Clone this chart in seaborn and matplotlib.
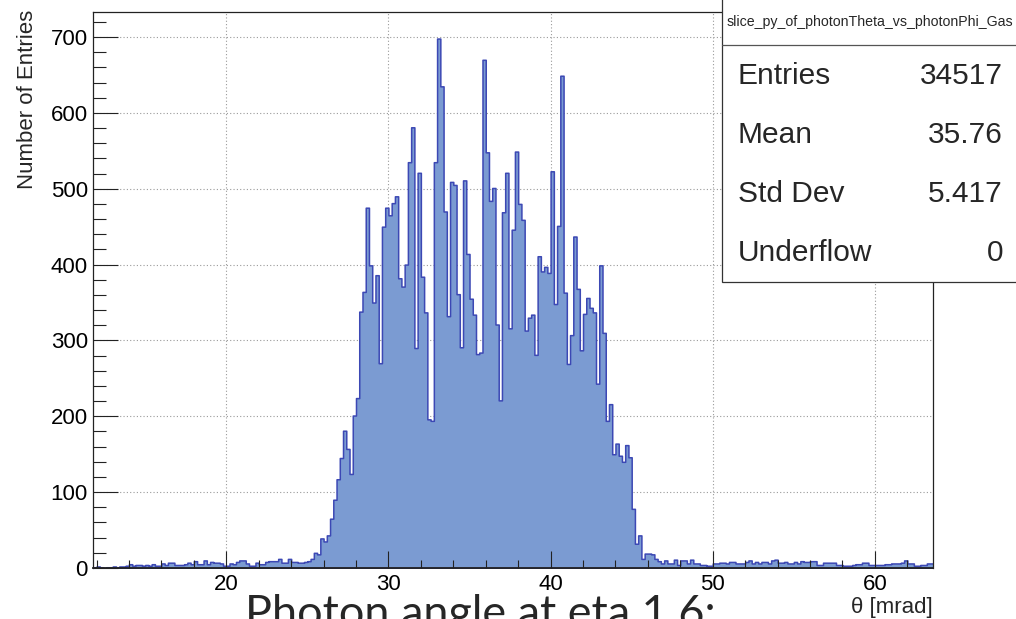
import numpy as np
import pandas as pd
import matplotlib
matplotlib.use("Agg")
import matplotlib.pyplot as plt
from matplotlib.patches import Rectangle
from matplotlib.lines import Line2D
from matplotlib.ticker import MultipleLocator
import seaborn as sns

# Histogram binning: 0.2 mrad bins starting at 11.8 mrad
BIN_LO = 11.8
BIN_W = 0.2

# Bin contents, left to right
tail_low = [1, 2, 1, 0, 1, 1, 2, 1, 2, 2, 3,
            5, 3, 4, 4, 3, 4, 3,
            5, 3, 3, 6, 4,
            7, 7, 4, 4, 4, 5,
            7, 5, 9, 5, 5,
            10, 5, 8, 7, 7, 6, 3, 3, 6, 5, 8, 10, 10, 6, 3, 3, 7, 5, 5, 8, 9, 9,
            9, 12, 7, 7, 12, 8, 8]
rise = [7, 7, 8, 9, 12, 20, 18,
        39, 35, 43, 65, 90, 117, 145, 181, 157, 124, 201, 224, 338, 364,
        475, 399, 350, 386, 270, 450, 475, 465, 481]
peak_a = [490, 382, 371, 400, 535, 581, 290, 521, 384, 337,
          196, 194, 535, 698, 635, 470, 332, 509, 505, 361,
          291, 511, 414, 355, 334, 282, 284, 670, 548]
peak_b = [484, 501, 321, 221, 469, 521, 316, 446, 549, 480,
          459, 313, 330, 334, 281, 411, 391, 397, 389, 523,
          348, 451, 649, 363, 269, 307, 437, 368, 287]
fall = [335, 356, 343, 337, 243, 399, 310, 194, 216, 150,
        164, 148, 140, 162, 146, 78, 32, 43, 12, 19,
        19, 18, 12, 9]
tail_high = [6, 10, 6, 6, 11, 4,
             10, 10, 6, 11, 6, 6,
             4, 4, 3, 3, 6, 6,
             7, 7, 6, 8, 8, 6,
             6, 6, 8, 10, 6, 8,
             6, 8, 8, 6, 10, 11,
             7, 7, 8, 6, 6, 8,
             6, 9, 8, 8, 9, 9,
             4, 4, 7, 7, 7, 7,
             4, 4, 3, 3, 3, 4,
             5, 5, 7, 7, 4, 4,
             4, 4, 4, 5, 5, 6,
             6, 6, 7, 10, 6, 6,
             3, 3, 4, 4, 6, 6]

hist_name = "slice_py_of_photonTheta_vs_photonPhi_Gas"
stat_labels = ["Entries", "Mean", "Std Dev", "Underflow"]
stat_values = ["34517", "35.76", "5.417", "0"]
x_title = "θ [mrad]"
y_title = "Number of Entries"
caption = "Photon angle at eta 1.6:"

counts = np.concatenate([tail_low, rise, peak_a, peak_b, fall, tail_high]).astype(float)
edges = BIN_LO + BIN_W * np.arange(len(counts) + 1)
centers = 0.5 * (edges[:-1] + edges[1:])
df = pd.DataFrame({"theta": centers, "entries": counts})

sns.set_theme(style="white")
plt.rcParams["font.family"] = ["Liberation Sans", "DejaVu Sans"]

W, H = 1016, 619
fig = plt.figure(figsize=(W / 100, H / 100), dpi=100)
fig.patch.set_facecolor("white")

x0, x1, y0, y1 = 93.3, 933.3, 12, 568
ax = fig.add_axes([x0 / W, 1 - y1 / H, (x1 - x0) / W, (y1 - y0) / H])

sns.histplot(data=df, x="theta", weights="entries", bins=edges.tolist(),
             element="step", fill=True, facecolor="#7b9bd2",
             edgecolor="#3c48b4", linewidth=1.1, alpha=1.0, ax=ax, zorder=2)

ax.set_xlim(edges[0], edges[-1])
ax.set_ylim(0, 733)
ax.set_xlabel("")
ax.set_ylabel("")

ax.xaxis.set_major_locator(MultipleLocator(10))
ax.xaxis.set_minor_locator(MultipleLocator(2))
ax.yaxis.set_major_locator(MultipleLocator(100))
ax.yaxis.set_minor_locator(MultipleLocator(20))

# Dotted grid kept underneath the histogram, tick marks drawn on top of it
ax.grid(False)
grid_kw = dict(color="#9a9a9a", linestyle=(0, (1, 2)), linewidth=0.8, zorder=0.5)
for xv in ax.get_xticks():
    if edges[0] < xv < edges[-1]:
        ax.axvline(xv, **grid_kw)
for yv in ax.get_yticks():
    if 0 < yv < 733:
        ax.axhline(yv, **grid_kw)
ax.set_axisbelow(False)

ax.tick_params(axis="both", which="both", direction="in", color="#222222",
               width=0.8, bottom=True, left=True, top=False, right=False,
               labelsize=16, labelcolor="black")
ax.tick_params(axis="x", which="major", length=12, pad=4)
ax.tick_params(axis="x", which="minor", length=6)
ax.tick_params(axis="y", which="major", length=18, pad=4)
ax.tick_params(axis="y", which="minor", length=9)

for side in ["left", "bottom", "top", "right"]:
    ax.spines[side].set_color("#222222")
    ax.spines[side].set_linewidth(0.9)
    ax.spines[side].set_visible(True)
ax.spines["bottom"].set_linewidth(1.3)

# Axis titles, ROOT style (aligned to the axis ends)
fig.text(28 / W, 1 - 10 / H, y_title, rotation=90, ha="center", va="top", fontsize=16)
fig.text(933 / W, 1 - 608 / H, x_title, ha="right", va="center", fontsize=16)

# Statistics box
bx0, by1 = 722 / W, 1 - 282 / H
box = Rectangle((bx0, by1), 1.02 - bx0, 1.02 - by1, transform=fig.transFigure,
                facecolor="white", edgecolor="#333333", linewidth=0.9, zorder=5)
fig.add_artist(box)
sep_y = 1 - 45 / H
fig.add_artist(Line2D([bx0, 1.0], [sep_y, sep_y], transform=fig.transFigure,
                      color="#555555", linewidth=0.9, zorder=6))
fig.text(869.5 / W, 1 - 22 / H, hist_name, ha="center", va="center", fontsize=10.2, zorder=7)
row_y = [76, 135, 194, 253]
for lab, val, ry in zip(stat_labels, stat_values, row_y):
    fig.text(738 / W, 1 - ry / H, lab, ha="left", va="center", fontsize=21.5, zorder=7)
    fig.text(1003 / W, 1 - ry / H, val, ha="right", va="center", fontsize=21.5, zorder=7)

# Caption below the plot (runs off the bottom edge)
cap = fig.text(480 / W, 1 - 627 / H, caption, ha="center", va="baseline",
               fontsize=30, family=["Lato", "DejaVu Sans"], zorder=7)
fig.canvas.draw()
wpx = cap.get_window_extent(fig.canvas.get_renderer()).width
cap.set_fontsize(30 * 470 / wpx)

fig.savefig("out.png", dpi=100, facecolor="white")
